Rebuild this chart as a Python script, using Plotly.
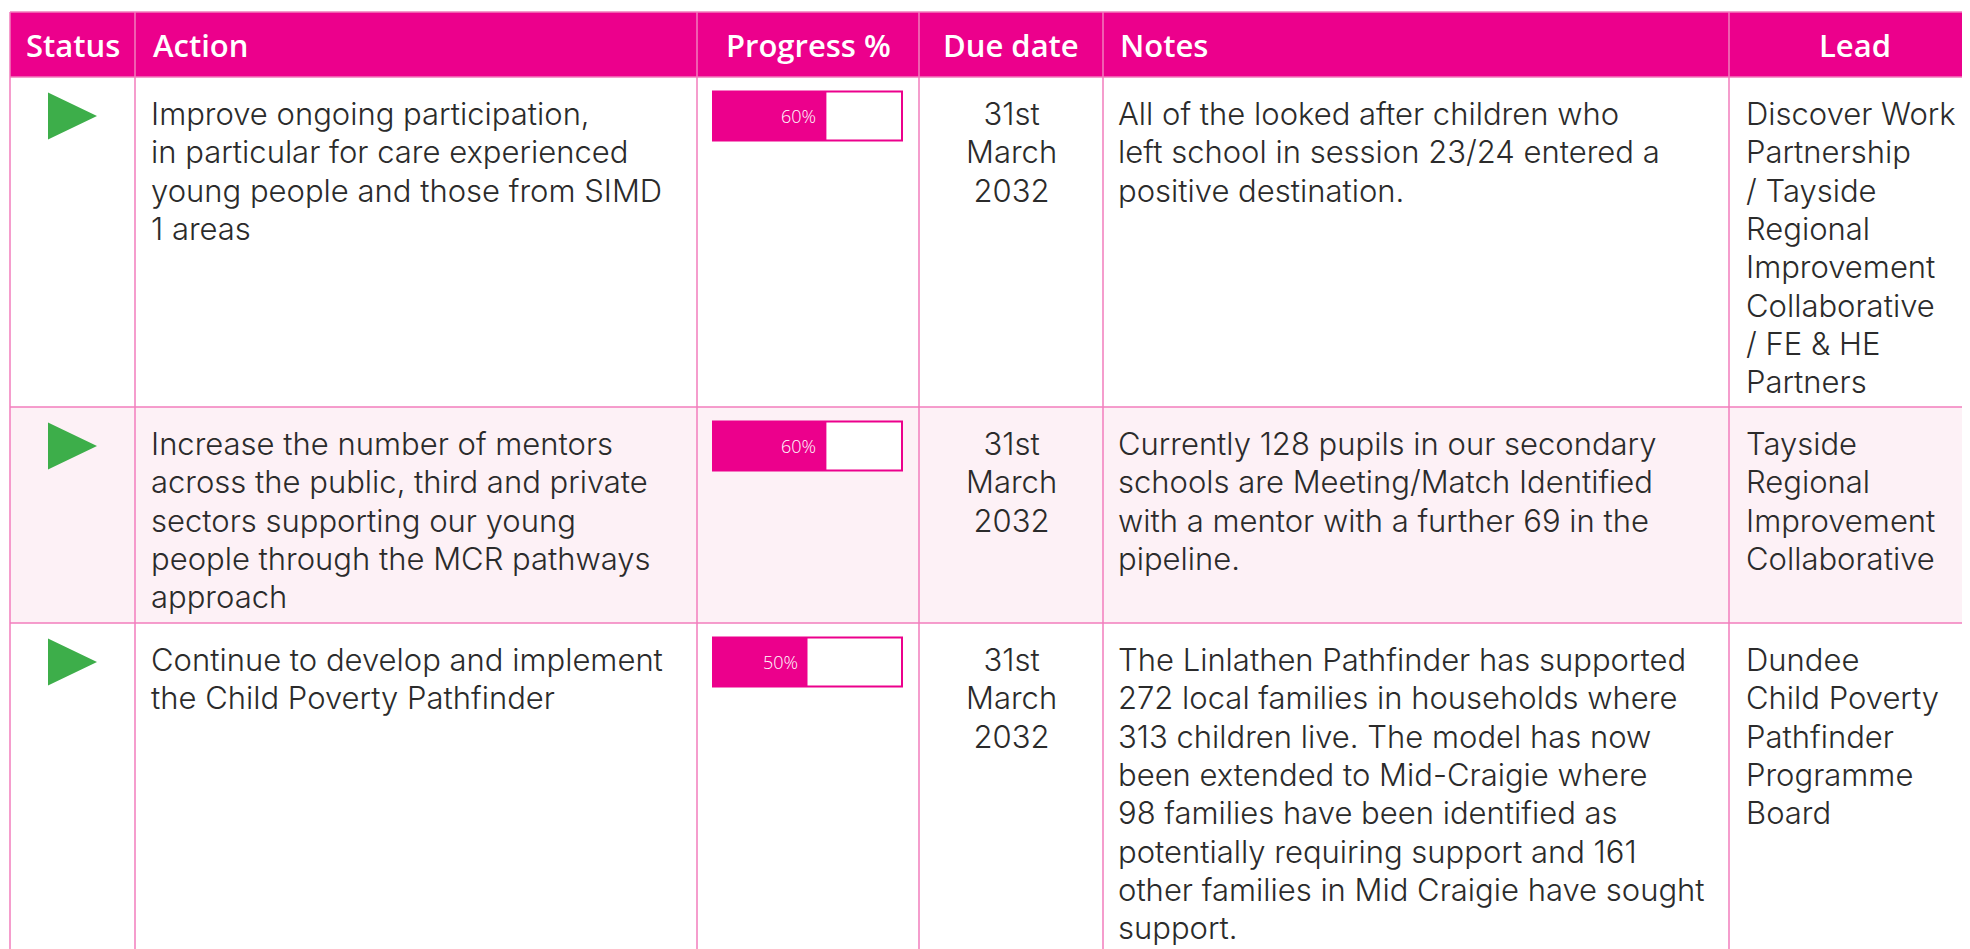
import plotly.graph_objects as go

# ---------------- data ----------------
columns = ["Status", "Action", "Progress %", "Due date", "Notes", "Lead"]
status = ["On track", "On track", "On track"]
actions = [
    "Improve ongoing participation,\nin particular for care experienced\nyoung people and those from SIMD\n1 areas",
    "Increase the number of mentors\nacross the public, third and private\nsectors supporting our young\npeople through the MCR pathways\napproach",
    "Continue to develop and implement\nthe Child Poverty Pathfinder",
]
progress = [60, 60, 50]
due_dates = ["31st\nMarch\n2032", "31st\nMarch\n2032", "31st\nMarch\n2032"]
notes = [
    "All of the looked after children who\nleft school in session 23/24 entered a\npositive destination.",
    "Currently 128 pupils in our secondary\nschools are Meeting/Match Identified\nwith a mentor with a further 69 in the\npipeline.",
    "The Linlathen Pathfinder has supported\n272 local families in households where\n313 children live. The model has now\nbeen extended to Mid-Craigie where\n98 families have been identified as\npotentially requiring support and 161\nother families in Mid Craigie have sought\nsupport.",
]
leads = [
    "Discover Work\nPartnership\n/ Tayside\nRegional\nImprovement\nCollaborative\n/ FE & HE\nPartners",
    "Tayside\nRegional\nImprovement\nCollaborative",
    "Dundee\nChild Poverty\nPathfinder\nProgramme\nBoard",
]

# ---------------- style / geometry ----------------
W, H = 1970, 949
OFF = 8  # page body margin compensation
PINK = "#EC008C"
GRID = "#F27DBD"
GREEN = "#3DAE4A"
TEXT = "#2B2B2B"
ROW_ALT = "#FDF1F6"
HEAD_FONT = "Open Sans"
BODY_FONT = "Inter"
BODY_SIZE = 31          # glyph size
LINE_GAP = 38.3         # distance between text lines (px)
BASE_SIZE = LINE_GAP / 1.3  # plotly line spacing = 1.3 * font size

col_edges = [10, 135, 697, 919, 1103, 1729, 1990]
header_top, header_bottom = 12, 77
row_tops = [77, 407, 623]
row_bottoms = [407, 623, 1000]
row_fill = ["#FFFFFF", ROW_ALT, "#FFFFFF"]
text_top = 15.5
mark_off = 39
bar_left, bar_right, bar_h = 713, 902, 49

fig = go.Figure()
shapes = []
shapes.append(dict(type="rect", xref="x", yref="y", x0=col_edges[0], x1=col_edges[-1],
                   y0=header_top, y1=header_bottom, fillcolor=PINK, line=dict(width=0), layer="below"))
for t, b, c in zip(row_tops, row_bottoms, row_fill):
    shapes.append(dict(type="rect", xref="x", yref="y", x0=col_edges[0], x1=col_edges[-1],
                       y0=t, y1=b, fillcolor=c, line=dict(width=0), layer="below"))
for yv in [header_top, header_bottom] + row_tops[1:]:
    shapes.append(dict(type="line", xref="x", yref="y", x0=col_edges[0], x1=col_edges[-1],
                       y0=yv, y1=yv, line=dict(color=GRID, width=1.5), layer="below"))
for xv in col_edges[:-1]:
    shapes.append(dict(type="line", xref="x", yref="y", x0=xv, x1=xv,
                       y0=header_top, y1=row_bottoms[-1], line=dict(color=GRID, width=1.5), layer="below"))

annotations = []
hdr_pos = [
    ((col_edges[0] + col_edges[1]) / 2, "center"),
    (151, "left"),
    ((col_edges[2] + col_edges[3]) / 2, "center"),
    ((col_edges[3] + col_edges[4]) / 2, "center"),
    (1118, "left"),
    ((col_edges[5] + col_edges[6]) / 2 - 5, "center"),
]
for name, (xv, anc) in zip(columns, hdr_pos):
    annotations.append(dict(x=xv, y=(header_top + header_bottom) / 2, xref="x", yref="y",
                            text=name, showarrow=False, xanchor=anc, yanchor="middle",
                            font=dict(family=HEAD_FONT, size=31, color="white", weight=600)))


def cell(text, xv, anc, top):
    body = "<br>".join(f"<span style='font-size:{BODY_SIZE}px'>{ln}</span>" for ln in text.split("\n"))
    annotations.append(dict(x=xv, y=top + text_top, xref="x", yref="y",
                            text=body, showarrow=False, xanchor=anc, yanchor="top", align=anc,
                            font=dict(family=BODY_FONT, size=BASE_SIZE, color=TEXT, weight=300)))


for i, top in enumerate(row_tops):
    cell(actions[i], 149, "left", top)
    cell(due_dates[i], (col_edges[3] + col_edges[4]) / 2, "center", top)
    cell(notes[i], 1116, "left", top)
    cell(leads[i], 1744, "left", top)

# status triangles
cx = (col_edges[0] + col_edges[1]) / 2
tx, ty = [], []
for i, s in enumerate(status):
    if s == "On track":
        cy = row_tops[i] + mark_off
        tx += [cx - 24.5, cx + 24.5, cx - 24.5, cx - 24.5, None]
        ty += [cy - 23.5, cy, cy + 23.5, cy - 23.5, None]
fig.add_trace(go.Scatter(x=tx, y=ty, mode="lines", fill="toself", fillcolor=GREEN,
                         line=dict(width=0, color=GREEN), hoverinfo="skip", showlegend=False))

# progress bars
bar_y = [t + mark_off for t in row_tops]
fig.add_trace(go.Bar(x=[100] * len(progress), y=bar_y, orientation="h", width=bar_h,
                     marker=dict(color="white", line=dict(color=PINK, width=2)),
                     xaxis="x2", yaxis="y", hoverinfo="skip", showlegend=False))
fig.add_trace(go.Bar(x=progress, y=bar_y, orientation="h", width=bar_h,
                     marker=dict(color=PINK, line=dict(width=0)),
                     xaxis="x2", yaxis="y", hoverinfo="skip", showlegend=False))
for p, yv in zip(progress, bar_y):
    annotations.append(dict(x=p, y=yv, xref="x2", yref="y", text=f"{p}%", showarrow=False,
                            xanchor="right", yanchor="middle", xshift=-8,
                            font=dict(family=HEAD_FONT, size=18, color="white", weight=300)))

ppu = (bar_right - bar_left) / 100.0
pad = 10
fig.update_layout(
    width=W, height=H, margin=dict(l=0, r=0, t=0, b=0),
    paper_bgcolor="white", plot_bgcolor="rgba(0,0,0,0)",
    barmode="overlay", showlegend=False,
    xaxis=dict(range=[OFF, W + OFF], visible=False, fixedrange=True),
    xaxis2=dict(domain=[(bar_left - pad - OFF) / W, (bar_right + pad - OFF) / W],
                range=[-pad / ppu, 100 + pad / ppu], visible=False, anchor="y", fixedrange=True),
    yaxis=dict(range=[H + OFF, OFF], visible=False, fixedrange=True),
    shapes=shapes, annotations=annotations,
)

fig.write_html("out.html", config={"displayModeBar": False})
